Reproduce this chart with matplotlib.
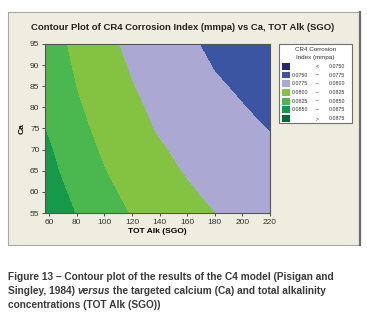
import matplotlib
matplotlib.use("Agg")
import matplotlib.pyplot as plt
import numpy as np
from matplotlib.patches import Rectangle

plt.rcParams['font.family'] = ['Liberation Sans', 'DejaVu Sans']

# TOT Alk (SGO) grid, Ca grid and CR4 corrosion index
alk = [57, 80, 100, 120, 140, 160, 180, 200, 220]
ca = [55, 60, 65, 70, 75, 80, 85, 90, 95]
cr4 = [
    [0.08671, 0.08488, 0.08342, 0.08235, 0.08146, 0.08068, 0.07999, 0.07950, 0.07910],
    [0.08626, 0.08440, 0.08297, 0.08191, 0.08101, 0.08023, 0.07954, 0.07905, 0.07860],
    [0.08584, 0.08386, 0.08255, 0.08149, 0.08059, 0.07981, 0.07913, 0.07865, 0.07820],
    [0.08546, 0.08347, 0.08217, 0.08110, 0.08020, 0.07942, 0.07874, 0.07826, 0.07781],
    [0.08498, 0.08311, 0.08180, 0.08065, 0.07978, 0.07906, 0.07837, 0.07788, 0.07744],
    [0.08466, 0.08276, 0.08146, 0.08039, 0.07950, 0.07872, 0.07803, 0.07756, 0.07705],
    [0.08440, 0.08244, 0.08114, 0.08007, 0.07917, 0.07839, 0.07771, 0.07726, 0.07670],
    [0.08412, 0.08213, 0.08083, 0.07977, 0.07887, 0.07809, 0.07740, 0.07690, 0.07635],
    [0.08383, 0.08184, 0.08054, 0.07947, 0.07857, 0.07780, 0.07711, 0.07655, 0.07600],
]

# contour bands (lowest to highest)
levels = [0.0750, 0.0775, 0.0800, 0.0825, 0.0850, 0.0875]
band_colors = ['#232b6e', '#3b55a3', '#aba8d3', '#84c242', '#4bb84f', '#16994b', '#0b6a38']
xticks = [60, 80, 100, 120, 140, 160, 180, 200, 220]
yticks = [55, 60, 65, 70, 75, 80, 85, 90, 95]

W, H = 367, 329
fig = plt.figure(figsize=(W / 100, H / 100), dpi=100)
fig.patch.set_facecolor('white')


def fx(px):
    return px / W


def fy(py):
    return 1 - py / H


# beige panel behind the chart
fig.patches.append(Rectangle((fx(8), fy(245)), fx(352), 233 / H, transform=fig.transFigure,
                             facecolor='#efede0', edgecolor='#a8a8a8', lw=0.8, zorder=-2))
fig.add_artist(plt.Line2D([fx(360), fx(360)], [fy(12), fy(245)], transform=fig.transFigure,
                          color='#6e6e6e', lw=1.6, zorder=-1))

ax = fig.add_axes([fx(45), fy(213), fx(225), 169 / H])
ax.set_zorder(1)
X, Y = np.meshgrid(alk, ca)
Z = np.array(cr4)
ax.contourf(X, Y, Z, levels=[0.0] + levels + [1.0], colors=band_colors)
ax.set_xlim(57, 220)
ax.set_ylim(55, 95)
ax.set_xticks(xticks)
ax.set_yticks(yticks)
ax.tick_params(labelsize=6, length=2.5, width=0.6, pad=1.5, colors='#333333')
for s in ax.spines.values():
    s.set_linewidth(0.8)
    s.set_color('#555555')
ax.set_xlabel('TOT Alk (SGO)', fontsize=6, fontweight='bold', labelpad=1.5)
ax.set_ylabel('Ca', fontsize=6, fontweight='bold', labelpad=3)

fig.text(fx(182.5), fy(28), 'Contour Plot of CR4 Corrosion Index (mmpa) vs Ca, TOT Alk (SGO)',
         ha='center', va='center', fontsize=6.8, fontweight='bold', color='#222222')

# legend box
lx0, ly0, lx1, ly1 = 279, 44, 352, 123
fs = 3.8
fig.patches.append(Rectangle((fx(lx0), fy(ly1)), fx(lx1 - lx0), (ly1 - ly0) / H,
                             transform=fig.transFigure, facecolor='white',
                             edgecolor='#707070', lw=0.8, zorder=2))
fig.text(fx(315.5), fy(49.5), 'CR4 Corrosion', ha='center', va='center', fontsize=4.5,
         color='#333333', zorder=3)
fig.text(fx(315.5), fy(58), 'Index (mmpa)', ha='center', va='center', fontsize=4.5,
         color='#333333', zorder=3)
labels = [('', '<', '%.4f' % levels[0])]
for lo, hi in zip(levels[:-1], levels[1:]):
    labels.append(('%.4f' % lo, '\u2013', '%.4f' % hi))
labels.append(('', '>', '%.4f' % levels[-1]))
for i, (c, (a, sep, b)) in enumerate(zip(band_colors, labels)):
    yc = 66.3 + i * 8.7
    fig.patches.append(Rectangle((fx(282), fy(yc + 3.4)), fx(7.5), 6.8 / H,
                                 transform=fig.transFigure, facecolor=c,
                                 edgecolor='none', zorder=3))
    kw = dict(va='center', fontsize=fs, color='#333333', zorder=3)
    fig.text(fx(308), fy(yc), a, ha='right', **kw)
    fig.text(fx(317), fy(yc), sep, ha='center', **kw)
    fig.text(fx(345), fy(yc), b, ha='right', **kw)

# caption below the panel, with "versus" in italics
cap_kw = dict(fontsize=7.3, fontweight='bold', color='#3a3a3a', va='center', ha='left')
fig.text(fx(8), fy(277), 'Figure 13 \u2013 Contour plot of the results of the C4 model (Pisigan and',
         **cap_kw)
r = fig.canvas.get_renderer()
t1 = fig.text(fx(8), fy(291), 'Singley, 1984) ', **cap_kw)
x = fx(8) + t1.get_window_extent(r).width / fig.bbox.width
t2 = fig.text(x, fy(291), 'versus', style='italic', **cap_kw)
x += t2.get_window_extent(r).width / fig.bbox.width
fig.text(x, fy(291), ' the targeted calcium (Ca) and total alkalinity', **cap_kw)
fig.text(fx(8), fy(305), 'concentrations (TOT Alk (SGO))', **cap_kw)

fig.savefig('out.png', dpi=100)
